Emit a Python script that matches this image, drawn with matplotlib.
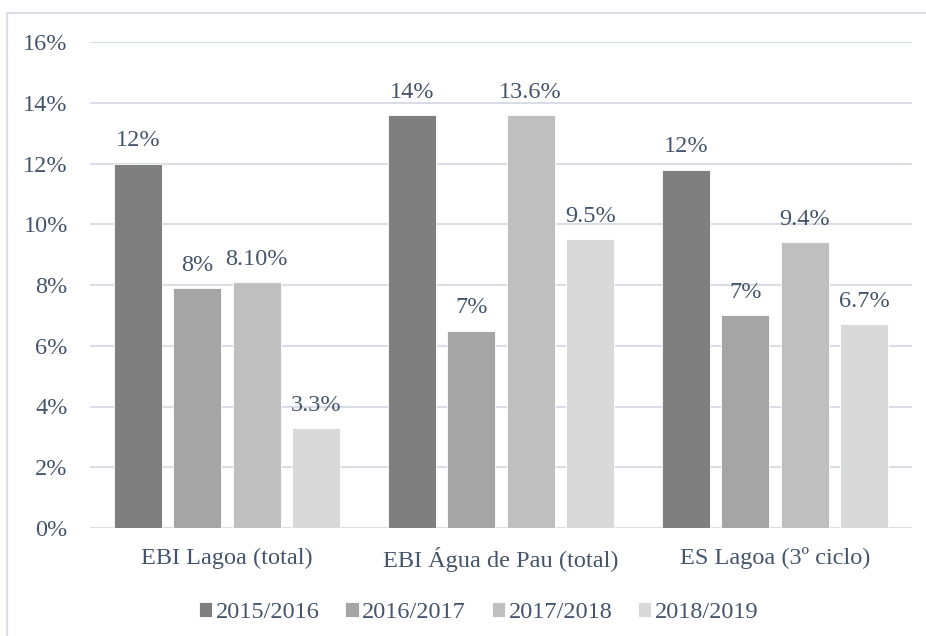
import matplotlib.pyplot as plt
import numpy as np
from matplotlib.patches import Rectangle

# data
categories = ['EBI Lagoa (total)', 'EBI Água de Pau (total)', 'ES Lagoa (3º ciclo)']
years = ['2015/2016', '2016/2017', '2017/2018', '2018/2019']
values = [
    [12.0, 13.6, 11.8],   # 2015/2016
    [7.9, 6.5, 7.0],      # 2016/2017
    [8.1, 13.6, 9.4],     # 2017/2018
    [3.3, 9.5, 6.7],      # 2018/2019
]
labels = [
    ['12%', '14%', '12%'],
    ['8%', '7%', '7%'],
    ['8.10%', '13.6%', '9.4%'],
    ['3.3%', '9.5%', '6.7%'],
]
yticks = [0, 2, 4, 6, 8, 10, 12, 14, 16]

colors = ['#7f7f7f', '#a5a5a5', '#bfbfbf', '#d9d9d9']
txt = '#44546a'
grid = '#d9dee6'
fs = 17.5

plt.rcParams['font.family'] = ['Liberation Serif', 'DejaVu Serif']

W, H = 926, 636
fig = plt.figure(figsize=(W / 100, H / 100), dpi=100)
ax = fig.add_axes([90 / W, 108 / H, 822 / W, 486 / H])

# outer chart border (cropped at right and bottom)
fig.patches.append(Rectangle((7 / W, -0.1), 1.2, (H - 13) / H + 0.1,
                             transform=fig.transFigure, fill=False,
                             edgecolor=grid, linewidth=1.5))

x = np.arange(len(categories))
pitch = 0.217
width = 0.175
for i, (vals, labs) in enumerate(zip(values, labels)):
    pos = x + (i - 1.5) * pitch
    bars = ax.bar(pos, vals, width, color=colors[i], label=years[i],
                  edgecolor='white', linewidth=0.6, zorder=3)
    for b, lab in zip(bars, labs):
        ax.text(b.get_x() + b.get_width() / 2, b.get_height() + 0.4, lab,
                ha='center', va='bottom', fontsize=fs, color=txt)

ax.set_xlim(-0.5, 2.5)
ax.set_ylim(0, 16)
ax.set_yticks(yticks)
ax.set_yticklabels([f'{t}%' for t in yticks])
ax.set_xticks(x)
ax.set_xticklabels(categories)
ax.tick_params(axis='both', length=0, labelsize=fs, labelcolor=txt)
ax.tick_params(axis='y', pad=16)
ax.tick_params(axis='x', pad=14)
ax.yaxis.grid(True, color=grid, linewidth=1.5, zorder=0)
for s in ax.spines.values():
    s.set_visible(False)
ax.set_axisbelow(True)

leg = ax.legend(loc='upper center', bbox_to_anchor=(0.473, -0.108), ncol=4,
                frameon=False, fontsize=fs, handlelength=0.55, handleheight=0.55,
                handletextpad=0.15, columnspacing=1.05)
for t in leg.get_texts():
    t.set_color(txt)

fig.savefig('out.png', dpi=100)
